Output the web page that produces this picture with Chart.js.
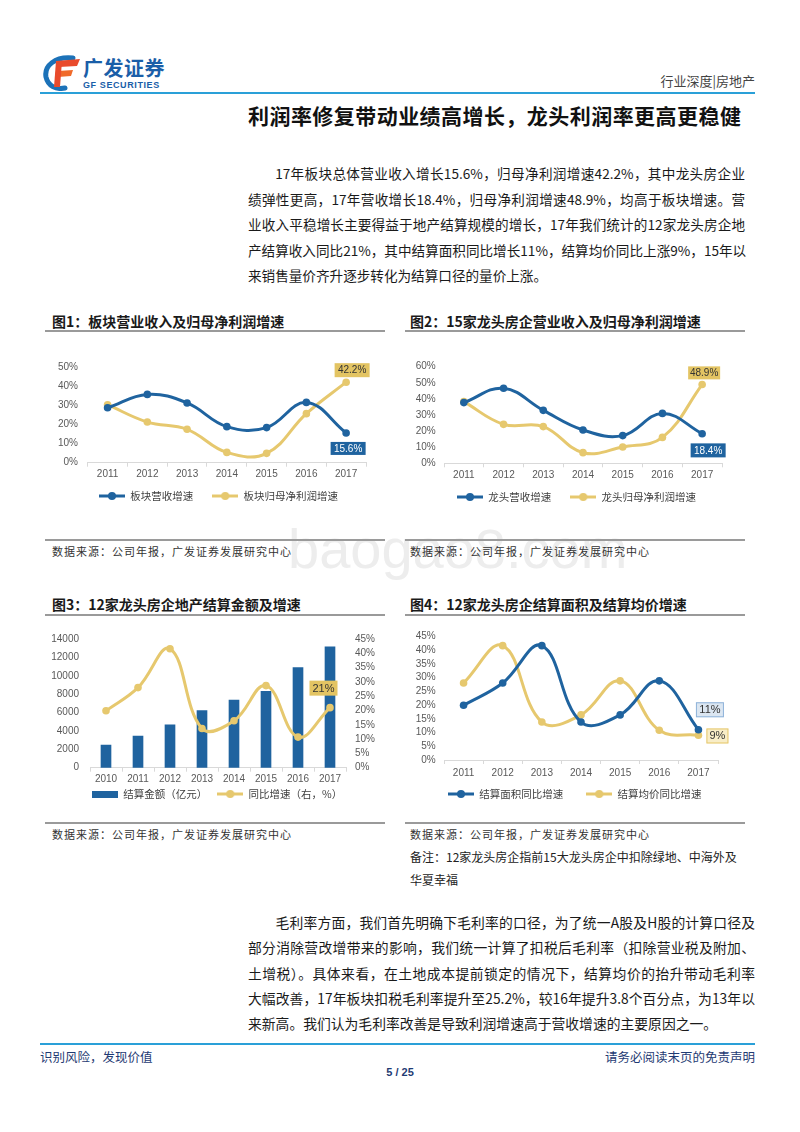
<!DOCTYPE html>
<html lang="zh">
<head>
<meta charset="UTF-8" />
<title>利润率修复带动业绩高增长</title>
<script src="https://cdn.jsdelivr.net/npm/chart.js@4.4.0/dist/chart.umd.min.js"></script>
<style>
  body { margin: 0; background: #fff; }
  #page { position: relative; width: 800px; height: 1132px; overflow: hidden; font-family: "Noto Sans CJK SC", sans-serif; color: #1a1a1a; }
  .a { position: absolute; white-space: nowrap; }
  .ln { position: absolute; left: 248px; width: 507px; font-size: 13.8px; line-height: 20px; white-space: nowrap; text-align: justify; text-align-last: justify; }
  .p1 { width: 497px; font-size: 13.6px; }
  .ln.last { text-align-last: left; }
  .ind { text-indent: 2em; }
  .figt { font-size: 14px; font-weight: 700; line-height: 20px; }
  .rule { position: absolute; height: 2px; background: #9a9a9a; }
  .src { font-size: 11px; letter-spacing: 1px; color: #333; line-height: 16px; }
  .note { font-size: 12px; color: #222; line-height: 16px; }
  canvas { position: absolute; }
</style>
</head>
<body>
<div id="page">
  <div class="a" style="left:288px;top:516px;font:56px 'Liberation Sans';color:#ededed;">baogao8.com</div>

  <!-- header -->
  <svg class="a" style="left:42px;top:55px" width="40" height="36" viewBox="0 0 40 36">
    <path d="M31 3 C13 1 2 11 4 22 C6 31 14 35 23 33" stroke="#1c72b8" stroke-width="5" fill="none" stroke-linecap="round"/>
    <path d="M14 6 L38 4 L35 11 L17 12 Z" fill="#e94b2c"/>
    <path d="M16 16 L31 15 L29 21 L16 22 Z" fill="#f06a2a"/>
    <path d="M14 6 L20 6 L18 32 L12 32 Z" fill="#e94b2c"/>
  </svg>
  <div class="a" style="left:83px;top:55px;font-size:20px;font-weight:700;color:#1a5ea8;letter-spacing:0.5px;line-height:26px;">广发证券</div>
  <div class="a" style="left:83px;top:80px;font:bold 9px 'Liberation Sans';color:#1a5ea8;letter-spacing:0.6px;">GF SECURITIES</div>
  <div class="a" style="right:45px;top:72px;font-size:13px;color:#444;line-height:18px;">行业深度|房地产</div>
  <div class="a" style="left:40px;top:92px;width:715px;height:2px;background:#2aa0d8;"></div>
  <div class="a" style="left:248px;top:102px;font-size:21px;font-weight:700;color:#111;line-height:26px;letter-spacing:0.45px;">利润率修复带动业绩高增长，龙头利润率更高更稳健</div>

  <!-- paragraph 1 -->
  <div class="ln p1 ind" style="top:163px">17年板块总体营业收入增长15.6%，归母净利润增速42.2%，其中龙头房企业</div>
  <div class="ln p1" style="top:189px">绩弹性更高，17年营收增长18.4%，归母净利润增速48.9%，均高于板块增速。营</div>
  <div class="ln p1" style="top:214px">业收入平稳增长主要得益于地产结算规模的增长，17年我们统计的12家龙头房企地</div>
  <div class="ln p1" style="top:240px">产结算收入同比21%，其中结算面积同比增长11%，结算均价同比上涨9%，15年以</div>
  <div class="ln p1 last" style="top:265px">来销售量价齐升逐步转化为结算口径的量价上涨。</div>

  <!-- figure titles row 1 -->
  <div class="a figt" style="left:52px;top:311px">图1：板块营业收入及归母净利润增速</div>
  <div class="a figt" style="left:410px;top:311px">图2：15家龙头房企营业收入及归母净利润增速</div>
  <div class="rule" style="left:45px;top:330px;width:340px"></div>
  <div class="rule" style="left:405px;top:330px;width:340px"></div>

  <div class="rule" style="left:45px;top:539px;width:340px;height:1.5px"></div>
  <div class="rule" style="left:405px;top:539px;width:340px;height:1.5px"></div>
  <div class="a src" style="left:52px;top:543px">数据来源：公司年报，广发证券发展研究中心</div>
  <div class="a src" style="left:410px;top:543px">数据来源：公司年报，广发证券发展研究中心</div>

  <!-- figure titles row 2 -->
  <div class="a figt" style="left:52px;top:594px">图3：12家龙头房企地产结算金额及增速</div>
  <div class="a figt" style="left:410px;top:594px">图4：12家龙头房企结算面积及结算均价增速</div>
  <div class="rule" style="left:45px;top:614px;width:340px"></div>
  <div class="rule" style="left:405px;top:614px;width:340px"></div>

  <div class="rule" style="left:45px;top:822px;width:340px;height:1.5px"></div>
  <div class="rule" style="left:405px;top:822px;width:340px;height:1.5px"></div>
  <div class="a src" style="left:52px;top:826px">数据来源：公司年报，广发证券发展研究中心</div>
  <div class="a src" style="left:410px;top:826px">数据来源：公司年报，广发证券发展研究中心</div>
  <div class="a note" style="left:410px;top:849px">备注：12家龙头房企指前15大龙头房企中扣除绿地、中海外及</div>
  <div class="a note" style="left:410px;top:872px">华夏幸福</div>

  <canvas id="c1" width="340" height="180" style="left:45px;top:345px"></canvas>
  <canvas id="c2" width="350" height="180" style="left:405px;top:345px"></canvas>
  <canvas id="c3" width="350" height="200" style="left:45px;top:622px"></canvas>
  <canvas id="c4" width="350" height="205" style="left:405px;top:622px"></canvas>

  <!-- paragraph 2 -->
  <div class="ln ind" style="top:912px">毛利率方面，我们首先明确下毛利率的口径，为了统一A股及H股的计算口径及</div>
  <div class="ln" style="top:937px">部分消除营改增带来的影响，我们统一计算了扣税后毛利率（扣除营业税及附加、</div>
  <div class="ln" style="top:963px">土增税）。具体来看，在土地成本提前锁定的情况下，结算均价的抬升带动毛利率</div>
  <div class="ln" style="top:988px">大幅改善，17年板块扣税毛利率提升至25.2%，较16年提升3.8个百分点，为13年以</div>
  <div class="ln last" style="top:1013px">来新高。我们认为毛利率改善是导致利润增速高于营收增速的主要原因之一。</div>

  <!-- footer -->
  <div class="a" style="left:40px;top:1043px;width:715px;height:2px;background:#2aa0d8;"></div>
  <div class="a" style="left:40px;top:1048px;font-size:12.5px;color:#1f3b73;line-height:17px;">识别风险，发现价值</div>
  <div class="a" style="right:45px;top:1048px;font-size:12.5px;color:#1f3b73;line-height:17px;">请务必阅读末页的免责声明</div>
  <div class="a" style="left:370px;width:60px;text-align:center;top:1066px;font:bold 11px 'Liberation Sans';color:#1f3b73;">5 / 25</div>
</div>

<script>
// ---- data ----
var years = ['2011', '2012', '2013', '2014', '2015', '2016', '2017'];
var sectorRev = [28.8, 35.8, 31.3, 18.9, 18.4, 31.6, 15.6];
var sectorProfit = [30.4, 21.3, 17.5, 5.4, 4.9, 25.7, 42.2];
var leaderRev = [37.7, 46.6, 32.9, 20.7, 17.2, 31.0, 18.4];
var leaderProfit = [38.3, 24.2, 22.8, 6.6, 10.1, 16.1, 48.9];

var years3 = ['2010', '2011', '2012', '2013', '2014', '2015', '2016', '2017'];
var settleAmt = [2450, 3450, 4650, 6200, 7350, 8300, 10900, 13150];
var settleYoy = [19.9, 28.0, 41.6, 13.7, 16.4, 28.7, 10.7, 21];

var areaYoy = [19.9, 28.0, 41.6, 13.8, 16.4, 28.8, 11];
var priceYoy = [28.0, 41.6, 13.8, 16.4, 28.8, 10.8, 9];

var BLUE = '#1f639f';
var GOLD = '#e6c86e';
var GOLD_TAG = '#e3c463';
var TICK = '#595959';
var AXIS = '#d9d9d9';

// legend icons: line with a dot, and a flat bar
function lineIcon(color) {
  var c = document.createElement('canvas');
  c.width = 26; c.height = 10;
  var g = c.getContext('2d');
  g.strokeStyle = color; g.lineWidth = 3;
  g.beginPath(); g.moveTo(0, 5); g.lineTo(26, 5); g.stroke();
  g.fillStyle = color;
  g.beginPath(); g.arc(13, 5, 4, 0, Math.PI * 2); g.fill();
  return c;
}
function barIcon(color) {
  var c = document.createElement('canvas');
  c.width = 26; c.height = 7;
  var g = c.getContext('2d');
  g.fillStyle = color; g.fillRect(0, 0, 26, 7);
  return c;
}

// value boxes next to the last points
var tagPlugin = {
  id: 'tags',
  afterDatasetsDraw: function (chart, args, opts) {
    var ctx = chart.ctx;
    (opts.items || []).forEach(function (t) {
      var pt = chart.getDatasetMeta(t.ds).data[t.i];
      var v = chart.data.datasets[t.ds].data[t.i];
      var x = pt.x + t.dx, y = pt.y + t.dy;
      ctx.save();
      ctx.fillStyle = t.bg;
      ctx.fillRect(x - t.w / 2, y - t.h / 2, t.w, t.h);
      if (t.border) {
        ctx.strokeStyle = t.border; ctx.lineWidth = 1;
        ctx.strokeRect(x - t.w / 2 + 0.5, y - t.h / 2 + 0.5, t.w - 1, t.h - 1);
      }
      ctx.fillStyle = t.color;
      ctx.font = (t.size || 10) + 'px "Liberation Sans"';
      ctx.textAlign = 'center'; ctx.textBaseline = 'middle';
      ctx.fillText(v.toFixed(t.dec) + '%', x, y + 0.5);
      ctx.restore();
    });
  }
};

// put the legend row where the reference has it
var legendPos = {
  id: 'legendPos',
  afterLayout: function (chart, args, o) {
    var lg = chart.legend;
    if (!lg) return;
    var p = lg.options.labels.padding, f = lg.options.labels.font.size;
    lg.left = o.x - p;
    lg.right = chart.width;
    lg.top = o.y - p - f / 2;
  }
};

function lineDs(label, data, color, axis) {
  return {
    type: 'line', label: label, data: data, yAxisID: axis || 'y',
    borderColor: color, backgroundColor: color, borderWidth: 3,
    pointRadius: 3.8, pointHoverRadius: 3.8, pointBorderWidth: 0,
    pointBackgroundColor: color, tension: 0.4, clip: false, order: 1
  };
}

function xScale(pad) {
  return {
    offset: true,
    grid: { offset: true, drawOnChartArea: false, drawTicks: true, tickLength: 4, color: AXIS },
    border: { color: AXIS },
    ticks: { color: TICK, font: { size: 10, family: 'Liberation Sans' }, padding: pad, maxRotation: 0, autoSkip: false },
    afterFit: function (s) { s.height = 20; }
  };
}
function yScale(pos, max, step, w, pad, pct) {
  return {
    position: pos, min: 0, max: max,
    grid: { display: false, drawTicks: false },
    border: { display: false },
    ticks: {
      stepSize: step, padding: pad, color: TICK, autoSkip: false,
      font: { size: 10, family: 'Liberation Sans' },
      callback: function (v) { return pct ? v + '%' : v; }
    },
    afterFit: function (s) { s.width = w; }
  };
}
function legendOpts(pad, icons) {
  return {
    position: 'bottom', align: 'start',
    labels: {
      usePointStyle: true, pointStyleWidth: 26, padding: pad, color: '#404040',
      font: { size: 10.5, family: 'Noto Sans CJK SC' },
      sort: function (a, b) { return a.datasetIndex - b.datasetIndex; },
      generateLabels: function (chart) {
        var items = Chart.defaults.plugins.legend.labels.generateLabels(chart);
        items.forEach(function (it) { it.pointStyle = icons[it.datasetIndex]; });
        return items;
      }
    }
  };
}
function opts(padding, legPad, legAt, icons, scales, tags) {
  return {
    responsive: false, animation: false, devicePixelRatio: 1,
    layout: { padding: padding },
    plugins: {
      legend: legendOpts(legPad, icons), tooltip: { enabled: false },
      tags: { items: tags }, legendPos: legAt
    },
    scales: scales
  };
}

// 图1
new Chart('c1', {
  type: 'line',
  data: { labels: years, datasets: [lineDs('板块营收增速', sectorRev, BLUE), lineDs('板块归母净利润增速', sectorProfit, GOLD)] },
  options: opts({ left: 0, right: 19, top: 22.3, bottom: 2.8 }, 19, { x: 54, y: 151 }, [lineIcon(BLUE), lineIcon(GOLD)],
    { x: xScale(2), y: yScale('left', 50, 10, 42.7, 9.7, true) },
    [{ ds: 1, i: 6, dx: 6, dy: -12, w: 35, h: 14, bg: GOLD_TAG, color: '#333', dec: 1 },
     { ds: 0, i: 6, dx: 2, dy: 15.5, w: 35, h: 13, bg: BLUE, color: '#fff', dec: 1 }]),
  plugins: [tagPlugin, legendPos]
});

// 图2
new Chart('c2', {
  type: 'line',
  data: { labels: years, datasets: [lineDs('龙头营收增速', leaderRev, BLUE), lineDs('龙头归母净利润增速', leaderProfit, GOLD)] },
  options: opts({ left: 0, right: 33, top: 21.7, bottom: 2.2 }, 19, { x: 52, y: 152 }, [lineIcon(BLUE), lineIcon(GOLD)],
    { x: xScale(2), y: yScale('left', 60, 10, 39, 8.3, true) },
    [{ ds: 1, i: 6, dx: 2, dy: -11.7, w: 32, h: 13, bg: GOLD_TAG, color: '#333', dec: 1 },
     { ds: 0, i: 6, dx: 6, dy: 16.7, w: 35, h: 14, bg: BLUE, color: '#fff', dec: 1 }]),
  plugins: [tagPlugin, legendPos]
});

// 图3
new Chart('c3', {
  type: 'bar',
  data: {
    labels: years3,
    datasets: [
      { type: 'bar', label: '结算金额（亿元）', data: settleAmt, backgroundColor: BLUE, barThickness: 10, yAxisID: 'y', order: 2 },
      lineDs('同比增速（右，%）', settleYoy, GOLD, 'y1')
    ]
  },
  options: opts({ left: 0, right: 0, top: 11.3, bottom: 3.8 }, 10, { x: 47, y: 172 }, [barIcon(BLUE), lineIcon(GOLD)],
    { x: xScale(2), y: yScale('left', 14000, 2000, 45, 11, false), y1: yScale('right', 45, 5, 49, 9, true) },
    [{ ds: 1, i: 7, dx: -6.5, dy: -19.5, w: 28, h: 15, bg: GOLD_TAG, color: '#333', dec: 0, size: 11 }]),
  plugins: [tagPlugin, legendPos]
});

// 图4
new Chart('c4', {
  type: 'line',
  data: { labels: years, datasets: [lineDs('结算面积同比增速', areaYoy, BLUE), lineDs('结算均价同比增速', priceYoy, GOLD)] },
  options: opts({ left: 0, right: 37, top: 13, bottom: 3.5 }, 23, { x: 43, y: 172 }, [lineIcon(BLUE), lineIcon(GOLD)],
    { x: xScale(3), y: yScale('left', 45, 5, 39, 8.3, true) },
    [{ ds: 0, i: 6, dx: 11.5, dy: -20, w: 28, h: 15, bg: '#dbe6f1', border: '#8fb3da', color: '#333', dec: 0, size: 11 },
     { ds: 1, i: 6, dx: 19, dy: 0.7, w: 22, h: 15, bg: '#f8edc7', border: '#e6c86e', color: '#333', dec: 0, size: 11 }]),
  plugins: [tagPlugin, legendPos]
});
</script>
</body>
</html>
